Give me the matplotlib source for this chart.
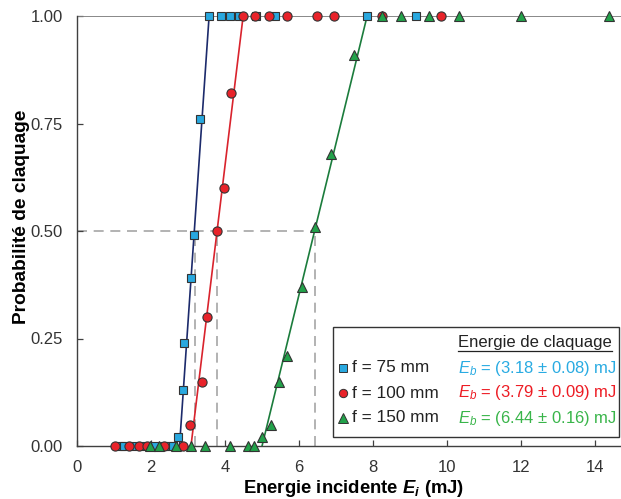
import numpy as np
import matplotlib
matplotlib.use('Agg')
import matplotlib.pyplot as plt
from matplotlib.patches import Rectangle

plt.rcParams['font.family'] = ['Liberation Sans', 'DejaVu Sans']
plt.rcParams['mathtext.fontset'] = 'custom'
plt.rcParams['mathtext.rm'] = 'Liberation Sans'
plt.rcParams['mathtext.it'] = 'Liberation Sans:italic'
plt.rcParams['mathtext.bf'] = 'Liberation Sans:bold'
plt.rcParams['mathtext.bfit'] = 'Liberation Sans:italic:bold'

# --- donnees ---
E75 = [1.18, 1.27, 1.54, 1.81, 2.10, 2.35, 2.50, 2.60, 2.72, 2.87, 2.90, 3.07,
       3.17, 3.32, 3.57, 3.89, 4.14, 4.39, 4.83, 5.35, 7.84, 9.16]
P75 = [0, 0, 0, 0, 0, 0, 0, 0, 0.02, 0.13, 0.24, 0.39,
       0.49, 0.76, 1, 1, 1, 1, 1, 1, 1, 1]

E100 = [1.04, 1.40, 1.67, 1.88, 2.35, 2.87, 3.05, 3.37, 3.51, 3.78, 3.98, 4.16,
        4.49, 4.81, 5.19, 5.68, 6.49, 6.95, 8.24, 9.84]
P100 = [0, 0, 0, 0, 0, 0, 0.05, 0.15, 0.30, 0.50, 0.60, 0.82,
        1, 1, 1, 1, 1, 1, 1, 1]

E150 = [1.96, 2.22, 2.67, 3.08, 3.45, 4.14, 4.63, 4.79, 4.99, 5.23, 5.45, 5.68,
        6.09, 6.43, 6.86, 7.49, 8.24, 8.76, 9.51, 10.32, 12.0, 14.38]
P150 = [0, 0, 0, 0, 0, 0, 0, 0, 0.02, 0.05, 0.15, 0.21,
        0.37, 0.51, 0.68, 0.91, 1, 1, 1, 1, 1, 1]

focales = ['75', '100', '150']
Eb = [3.18, 3.79, 6.44]
Eb_err = [0.08, 0.09, 0.16]
fit_lo = [2.77, 3.08, 5.00]
fit_hi = [3.57, 4.49, 7.84]

marker_fill = ['#29a8df', '#e8232a', '#22a24a']
line_col = ['#1c2a6b', '#d9232d', '#1b7c3c']
txt_col = ['#29abe2', '#ed1c24', '#39b54a']
markers = ['s', 'o', '^']
msizes = [5.8, 6.6, 7.2]

fig = plt.figure(figsize=(6.21, 4.99), dpi=100)
ax = fig.add_axes([77 / 621, 53 / 499, 1 - 77 / 621, (446 - 16) / 499])
ax.set_xlim(0, 14.7)
ax.set_ylim(0, 1)

# lignes pointillees a P = 0.5
dash_kw = dict(color='#a6a6a6', lw=1.2, ls=(0, (6, 4)), zorder=1)
ax.plot([0, max(Eb)], [0.5, 0.5], **dash_kw)
for e in Eb:
    ax.plot([e, e], [0, 0.5], **dash_kw)

ax.axhline(1.0, color='#7f7f7f', lw=1.3, zorder=2)

# droites d'ajustement
for i in range(3):
    ax.plot([fit_lo[i], fit_hi[i]], [0, 1], color=line_col[i], lw=1.2, zorder=3)

data = [(E75, P75), (E100, P100), (E150, P150)]
for i, (E, P) in enumerate(data):
    ax.plot(E, P, ls='none', marker=markers[i], ms=msizes[i],
            mfc=marker_fill[i], mec='#333333', mew=0.8, zorder=4 + i, clip_on=False)

ax.set_xticks(np.arange(0, 15, 2))
ax.set_yticks([0, 0.25, 0.5, 0.75, 1.0])
ax.set_yticklabels(['0.00', '0.25', '0.50', '0.75', '1.00'])
ax.tick_params(direction='in', length=4, width=0.9, labelsize=12, color='#404040',
               labelcolor='#333333')
ax.tick_params(axis='x', pad=10)
ax.tick_params(axis='y', pad=10)
for s in ['top', 'right']:
    ax.spines[s].set_visible(False)
for s in ['left', 'bottom']:
    ax.spines[s].set_linewidth(1.0)
    ax.spines[s].set_color('#404040')
    ax.spines[s].set_zorder(2.5)

ax.set_xlabel(r'Energie incidente $\mathbfit{E}_{\mathbfit{i}}$ (mJ)', fontsize=13.3,
              fontweight='bold')
ax.xaxis.set_label_coords((354 - 77) / 544, -(478 - 446) / 430)
ax.set_ylabel('Probabilité de claquage', fontsize=13.8, fontweight='bold')
ax.yaxis.set_label_coords(-(77 - 30) / 544, (446 - 217) / 430)

# --- legende dessinee a la main ---
def fx(px):
    return (px - 77) / 544

def fy(py):
    return (446 - py) / 430

ax.add_patch(Rectangle((fx(333), fy(437)), fx(619) - fx(333), fy(327) - fy(437),
                       transform=ax.transAxes, fill=True, fc='white', ec='#333333',
                       lw=1.0, zorder=10, clip_on=False))
ax.text(fx(458), fy(342), 'Energie de claquage', transform=ax.transAxes,
        fontsize=12, color='#222222', va='center', ha='left', zorder=11)
ax.plot([fx(458), fx(612)], [fy(351), fy(351)], transform=ax.transAxes,
        color='#222222', lw=0.9, zorder=11, clip_on=False)
rows = [368, 393, 418]
for i in range(3):
    yy = fy(rows[i])
    ax.plot([fx(343)], [yy], transform=ax.transAxes, ls='none', marker=markers[i],
            ms=msizes[i] - 0.6, mfc=marker_fill[i], mec='#333333', mew=0.7,
            zorder=11, clip_on=False)
    ax.text(fx(352), yy, f'f = {focales[i]} mm', transform=ax.transAxes,
            fontsize=12.4, color='#222222', va='center', ha='left', zorder=11)
    ax.text(fx(458), yy, r'$\mathit{E_b}$' + f' = ({Eb[i]:.2f} ± {Eb_err[i]:.2f}) mJ',
            transform=ax.transAxes, fontsize=12, color=txt_col[i],
            va='center', ha='left', zorder=11)

fig.savefig('out.png', dpi=100)
